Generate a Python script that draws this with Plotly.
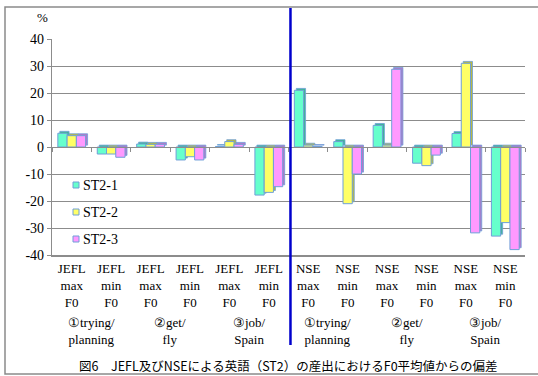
import plotly.graph_objects as go

# Deviation (%) from mean F0, per speaker group / measure / phrase
cat_pos = list(range(12))
tick_labels = [
    "JEFL<br>max<br>F0", "JEFL<br>min<br>F0",
    "JEFL<br>max<br>F0", "JEFL<br>min<br>F0",
    "JEFL<br>max<br>F0", "JEFL<br>min<br>F0",
    "NSE<br>max<br>F0", "NSE<br>min<br>F0",
    "NSE<br>max<br>F0", "NSE<br>min<br>F0",
    "NSE<br>max<br>F0", "NSE<br>min<br>F0",
]
phrase_pos = [0.5, 2.5, 4.5, 6.5, 8.5, 10.5]
phrase_labels = ["①trying/<br>planning", "②get/<br>fly", "③job/<br>Spain"] * 2

series_names = ["ST2-1", "ST2-2", "ST2-3"]
st2_1 = [5.1, -2.6, 1.1, -4.8, 0.2, -17.8, 21.0, 2.0, 8.0, -6.0, 5.0, -33.0]
st2_2 = [4.2, -2.6, 1.0, -3.6, 2.0, -16.8, 0.7, -21.0, 0.7, -6.9, 31.0, -28.0]
st2_3 = [4.2, -3.8, 1.0, -4.8, 1.0, -14.7, 0.2, -10.0, 28.8, -3.0, -31.8, -38.0]
series_values = [st2_1, st2_2, st2_3]

y_ticks = [40, 30, 20, 10, 0, -10, -20, -30, -40]

face_colors = ["#66FFCC", "#FFFF66", "#FF99FF"]
side_colors = ["#3FB394", "#B8B840", "#B277C9"]
edge_color = "#6F9FD8"
grid_color = "#8C8C8C"
LATIN = "'Liberation Serif', 'DejaVu Serif', serif"
CJK = "'Noto Sans CJK JP', sans-serif"

# plot-area geometry in pixels, used to place the furniture in paper units
PLOT_L, PLOT_R, PLOT_T, PLOT_B = 52, 525, 39, 255


def px_x(px):
    return (px - PLOT_L) / (PLOT_R - PLOT_L)


def px_y(py):
    return (PLOT_B - py) / (PLOT_B - PLOT_T)


bar_w = 0.235
group_start = -0.352
depth_x = 0.05
depth_y = 0.7

fig = go.Figure()

# darker offset faces give the bars their depth
for i, vals in enumerate(series_values):
    fig.add_trace(go.Bar(
        x=cat_pos, y=vals, base=depth_y,
        offset=group_start + i * bar_w + depth_x, width=bar_w,
        marker=dict(color=side_colors[i], line=dict(color=edge_color, width=0.8)),
        showlegend=False, hoverinfo="skip",
    ))

for i, vals in enumerate(series_values):
    fig.add_trace(go.Bar(
        x=cat_pos, y=vals,
        offset=group_start + i * bar_w, width=bar_w,
        marker=dict(color=face_colors[i], line=dict(color=edge_color, width=1)),
        name=series_names[i], showlegend=False, hoverinfo="skip",
    ))

# category-boundary axis running along the zero line
fig.add_trace(go.Scatter(x=[None], y=[None], xaxis="x2", showlegend=False))

# legend: small square keys with the series names beside them
legend_rows = [185, 212, 239]
for i, name in enumerate(series_names):
    cy = legend_rows[i]
    fig.add_shape(type="rect", xref="paper", yref="paper",
                  x0=px_x(73), x1=px_x(79), y0=px_y(cy + 3), y1=px_y(cy - 3),
                  fillcolor=face_colors[i], line=dict(color=edge_color, width=1))
    fig.add_annotation(x=px_x(81), y=px_y(cy), xref="paper", yref="paper",
                       text=name, showarrow=False, xanchor="left",
                       yanchor="middle",
                       font=dict(family=LATIN, size=14, color="#000000"))

for xp, txt in zip(phrase_pos, phrase_labels):
    fig.add_annotation(
        x=xp, y=px_y(313), xref="x", yref="paper", text=txt, showarrow=False,
        xanchor="center", yanchor="top", align="center",
        font=dict(family=LATIN, size=13, color="#000000"),
    )

fig.add_annotation(
    x=0.5, y=px_y(365), xref="paper", yref="paper",
    text="図6　JEFL及びNSEによる英語（ST2）の産出におけるF0平均値からの偏差",
    showarrow=False, xanchor="center", yanchor="middle",
    font=dict(family=CJK, size=12.5, color="#000000"),
)
fig.add_annotation(
    x=px_x(42), y=px_y(18), xref="paper", yref="paper", text="%",
    showarrow=False, xanchor="center", yanchor="middle",
    font=dict(family=LATIN, size=13, color="#000000"),
)

# divider between the JEFL and NSE halves
fig.add_shape(type="line", xref="x", yref="paper", x0=5.55, x1=5.55,
              y0=px_y(345), y1=px_y(8), line=dict(color="#0000CC", width=2.5))
# outer chart frame
fig.add_shape(type="rect", xref="paper", yref="paper",
              x0=px_x(5), x1=px_x(545), y0=px_y(374), y1=px_y(7),
              line=dict(color="#8A8A8A", width=1.5), layer="below")

fig.update_layout(
    width=538, height=376,
    margin=dict(l=PLOT_L, r=538 - PLOT_R, t=PLOT_T, b=376 - PLOT_B),
    paper_bgcolor="#FFFFFF", plot_bgcolor="#FFFFFF",
    barmode="overlay", showlegend=False,
    font=dict(family=LATIN, size=13, color="#000000"),
    xaxis=dict(
        range=[-0.5, 11.5], tickmode="array", tickvals=cat_pos,
        ticktext=tick_labels, ticks="", showgrid=False, zeroline=False,
        showline=True, linecolor=grid_color, linewidth=1.5,
        tickfont=dict(family=LATIN, size=13), ticklabelstandoff=1,
    ),
    xaxis2=dict(
        range=[-0.5, 11.5], overlaying="x", anchor="free", position=0.5,
        showticklabels=False, showgrid=False, zeroline=False,
        showline=True, linecolor=grid_color, linewidth=1.2,
        tickmode="linear", tick0=-0.5, dtick=1, ticks="outside",
        ticklen=4, tickcolor=grid_color,
    ),
    yaxis=dict(
        range=[-40, 40], tickmode="array", tickvals=y_ticks,
        ticktext=[str(v) for v in y_ticks],
        showgrid=True, gridcolor=grid_color, gridwidth=1,
        zeroline=False, showline=True, linecolor=grid_color, linewidth=1.2,
        ticks="outside", ticklen=4, tickcolor=grid_color,
        tickfont=dict(family=LATIN, size=14),
    ),
)

fig.write_html("out.html")
